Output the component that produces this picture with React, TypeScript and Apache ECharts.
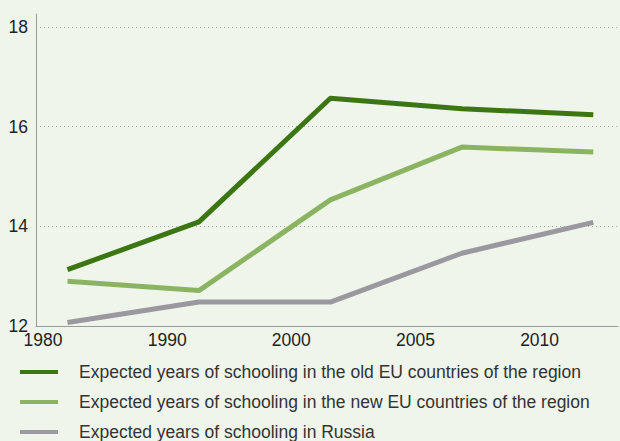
import React, { useEffect, useRef } from "react";
import * as echarts from "echarts";

const yearLabels = ["1980", "1990", "2000", "2005", "2010"];
const pointIndex = [0, 1, 2, 3, 4];
const oldEU = [13.13, 14.09, 16.57, 16.36, 16.24];
const newEU = [12.9, 12.71, 14.53, 15.59, 15.49];
const russia = [12.07, 12.48, 12.48, 13.46, 14.08];
const seriesNames = [
  "Expected years of schooling in the old EU countries of the region",
  "Expected years of schooling in the new EU countries of the region",
  "Expected years of schooling in Russia",
];
const seriesColors = ["#3b7612", "#8ab462", "#9b999f"];

const FONT = "'Liberation Sans', Arial, Helvetica, sans-serif";

export default function App() {
  const ref = useRef<HTMLDivElement>(null);
  useEffect(() => {
    if (!ref.current) return;
    const chart = echarts.init(ref.current, null, { renderer: "svg" });
    const values = [oldEU, newEU, russia];
    chart.setOption({
      animation: false,
      backgroundColor: "#eff5ea",
      textStyle: { fontFamily: FONT },
      grid: [
        { left: 36, right: 2, top: 27, bottom: 115 },
        { left: 36, right: 2, top: 14, bottom: 115 },
      ],
      xAxis: [
        {
          type: "value",
          gridIndex: 0,
          min: -0.0564,
          max: 4.6315,
          position: "bottom",
          axisLine: { show: true, lineStyle: { color: "#9a9a9a", width: 1 } },
          axisTick: { show: false },
          splitLine: { show: false },
          axisLabel: {
            customValues: pointIndex,
            formatter: (v: number) => yearLabels[Math.round(v)] ?? "",
            color: "#222",
            fontSize: 17.5,
            margin: 5,
            fontFamily: FONT,
          },
        },
        {
          type: "value",
          gridIndex: 0,
          min: -0.2396,
          max: 4.188,
          show: false,
        },
        { type: "value", gridIndex: 1, show: false },
      ],
      yAxis: [
        {
          type: "value",
          gridIndex: 0,
          min: 12,
          max: 18,
          interval: 2,
          axisLine: { show: false },
          axisTick: { show: false },
          splitLine: {
            show: true,
            lineStyle: { color: "#a8a8a8", type: [1, 3], width: 1 },
          },
          axisLabel: {
            color: "#222",
            fontSize: 17.5,
            margin: 8,
            fontFamily: FONT,
          },
        },
        {
          type: "value",
          gridIndex: 1,
          axisLine: { show: true, lineStyle: { color: "#9a9a9a", width: 1 } },
          axisTick: { show: false },
          axisLabel: { show: false },
          splitLine: { show: false },
        },
      ],
      legend: {
        orient: "vertical",
        left: 20,
        top: 363,
        padding: 0,
        itemGap: 12,
        icon: "rect",
        itemWidth: 38,
        itemHeight: 4,
        data: seriesNames,
        textStyle: {
          fontSize: 17.5,
          color: "#333",
          lineHeight: 18,
          padding: [0, 0, 0, 16],
          fontFamily: FONT,
        },
      },
      series: seriesNames.map((name, k) => ({
        name,
        type: "line",
        xAxisIndex: 1,
        yAxisIndex: 0,
        symbol: "none",
        z: 3 - k + 2,
        lineStyle: { color: seriesColors[k], width: 5 },
        itemStyle: { color: seriesColors[k] },
        data: values[k].map((v, i) => [pointIndex[i], v]),
      })),
    });
    return () => chart.dispose();
  }, []);
  return (
    <div
      ref={ref}
      style={{ position: "fixed", left: 0, top: 0, width: 620, height: 441 }}
    />
  );
}
